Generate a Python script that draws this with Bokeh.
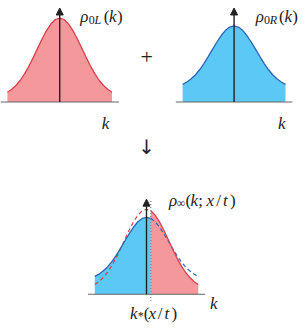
from bokeh.plotting import figure
from bokeh.models import Range1d, Arrow, NormalHead
from bokeh.core.properties import value
from bokeh.embed import file_html
from bokeh.resources import INLINE

# ---- data ----
k = [-3.0, -2.75, -2.5, -2.25, -2.0, -1.75, -1.5, -1.25, -1.0, -0.75, -0.5, -0.25,
     0.0, 0.25, 0.5, 0.75, 1.0, 1.25, 1.5, 1.75, 2.0, 2.25, 2.5, 2.75, 3.0]
rho_L = [0.116, 0.151, 0.200, 0.262, 0.341, 0.434, 0.538, 0.648, 0.757, 0.854, 0.932, 0.983,
         1.000, 0.983, 0.932, 0.854, 0.757, 0.648, 0.538, 0.434, 0.341, 0.262, 0.200, 0.151, 0.116]
rho_R = [0.210, 0.238, 0.276, 0.325, 0.387, 0.461, 0.543, 0.630, 0.715, 0.792, 0.854, 0.893,
         0.907, 0.893, 0.854, 0.792, 0.715, 0.630, 0.543, 0.461, 0.387, 0.325, 0.276, 0.238, 0.210]
k_star = 0.25

# ---- styles ----
PINK, RED = "#F4989C", "#D8404C"
SKY, BLUE = "#5BC8F5", "#2E66B2"
AXIS, INK = "#666666", "#222222"
SERIF = "Liberation Serif"
AX_HALF = 3.4
ARROW_TOP = 1.12

W, H = 300, 325
REF_W, REF_H = 308, 333
p = figure(width=W, height=H, output_backend="svg", toolbar_location=None,
           x_range=Range1d(0, REF_W), y_range=Range1d(REF_H, 0), min_border=0,
           x_axis_location=None, y_axis_location=None)
p.grid.visible = False
p.outline_line_color = None
p.background_fill_color = None
p.border_fill_color = None

# panel placement: centre x, baseline y (page px), px per unit k, px per unit rho
panels = {"L": (60.8, 104, 17.9, 86.0),
          "R": (239.8, 104, 17.6, 86.0),
          "B": (149.9, 301, 17.7, 87.0)}
for name, (xc, yb, sx, sy) in panels.items():
    p.extra_x_ranges[name] = Range1d((0 - xc) / sx, (REF_W - xc) / sx)
    p.extra_y_ranges[name] = Range1d((yb - REF_H) / sy, (yb - 0) / sy)


def axis_and_arrow(name):
    p.segment(x0=[-AX_HALF], y0=[0], x1=[AX_HALF], y1=[0], line_color=AXIS,
              line_width=1.2, x_range_name=name, y_range_name=name)
    p.add_layout(Arrow(x_start=0, y_start=0, x_end=0, y_end=ARROW_TOP,
                       line_color=INK, line_width=1.4,
                       end=NormalHead(size=7, fill_color=INK, line_color=INK),
                       x_range_name=name, y_range_name=name))


# top-left
p.varea(x=k, y1=0, y2=rho_L, fill_color=PINK, x_range_name="L", y_range_name="L")
p.line(k, rho_L, line_color=RED, line_width=1.3, x_range_name="L", y_range_name="L")
axis_and_arrow("L")

# top-right
p.varea(x=k, y1=0, y2=rho_R, fill_color=SKY, x_range_name="R", y_range_name="R")
p.line(k, rho_R, line_color=BLUE, line_width=1.3, x_range_name="R", y_range_name="R")
axis_and_arrow("R")

# bottom
kl = [v for v in k if v <= k_star]
kr = [v for v in k if v >= k_star]
rL_l = [r for v, r in zip(k, rho_L) if v <= k_star]
rR_l = [r for v, r in zip(k, rho_R) if v <= k_star]
rL_r = [r for v, r in zip(k, rho_L) if v >= k_star]
rR_r = [r for v, r in zip(k, rho_R) if v >= k_star]
p.varea(x=kl, y1=0, y2=rR_l, fill_color=SKY, x_range_name="B", y_range_name="B")
p.varea(x=kr, y1=0, y2=rL_r, fill_color=PINK, x_range_name="B", y_range_name="B")
p.line(kl, rL_l, line_color=RED, line_width=1.2, line_dash="4 3", x_range_name="B", y_range_name="B")
p.line(kr, rR_r, line_color=BLUE, line_width=1.2, line_dash="4 3", x_range_name="B", y_range_name="B")
p.line(kl, rR_l, line_color=BLUE, line_width=1.3, x_range_name="B", y_range_name="B")
p.line(kr, rL_r, line_color=RED, line_width=1.3, x_range_name="B", y_range_name="B")
axis_and_arrow("B")
p.segment(x0=[k_star], y0=[-0.08], x1=[k_star], y1=[1.10], line_color="#777777",
          line_width=1.1, line_dash="1 2", x_range_name="B", y_range_name="B")


def txt(x, y, s, size, style="italic", align="left", baseline="alphabetic", font=SERIF):
    p.text(x=[x], y=[y], text=[s], text_font=value(font), text_font_style=style,
           text_font_size=f"{size}px", text_align=align, text_baseline=baseline,
           text_color=INK)


I, N = "italic", "normal"
BIG, SUB = 17, 12


def formula(y, pieces):
    # pieces: (text, x, baseline shift, size, style)
    for s, x, dy, size, style in pieces:
        txt(x, y + dy, s, size, style)


for dx, sub in ((0, "L"), (180, "R")):
    formula(16.5, [("ρ", 82 + dx, 0, BIG, I), ("0", 90.5 + dx, 3.5, SUB, N),
                   (sub, 96.5 + dx, 3.5, SUB, I), ("(", 106 + dx, 0, BIG, N),
                   ("k", 111.5 + dx, 0, BIG, I), (")", 119.5 + dx, 0, BIG, N)])

txt(104, 126, "k", BIG)
txt(285, 126, "k", BIG)
txt(215, 310.5, "k", BIG)

formula(204.5, [("ρ", 173, 0, BIG, I), ("∞", 181, 3, SUB, N), ("(", 190, 0, BIG, N),
                ("k", 195, 0, BIG, I), (";", 203, 0, BIG, N), ("x", 211.5, 0, BIG, I),
                ("/", 221.5, 0, BIG, N), ("t", 228.5, 0, BIG, I), (")", 235.5, 0, BIG, N)])

formula(321, [("k", 133, 0, BIG, I), ("*", 141, 2.5, SUB, N), ("(", 147, 0, BIG, N),
              ("x", 152, 0, BIG, I), ("/", 161.5, 0, BIG, N), ("t", 168.5, 0, BIG, I),
              (")", 175.5, 0, BIG, N)])

txt(150, 58, "+", 22, style=N, align="center", baseline="middle")
txt(150, 150, "↓", 20, style=N, align="center", baseline="middle", font="DejaVu Sans")

open("out.html", "w").write(file_html(p, INLINE))
